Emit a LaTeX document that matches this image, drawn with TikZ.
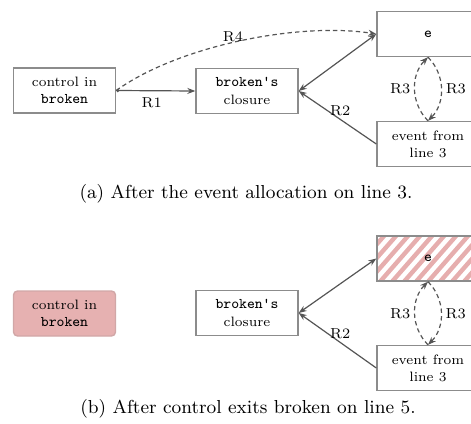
\documentclass[tikz,border=0pt]{standalone}
\usetikzlibrary{arrows.meta}
\definecolor{boxgray}{HTML}{8C8C8C}
\definecolor{linegray}{HTML}{555555}
\definecolor{pinkfill}{HTML}{E6B1B1}
\definecolor{hatchpink}{HTML}{E6AEAE}
\tikzset{
  box/.style={draw=boxgray, line width=0.7pt, minimum width=51pt, minimum height=22.5pt,
    inner sep=1pt, align=center, font=\fontsize{6.8}{8.6}\selectfont},
  lbl/.style={font=\fontsize{7.2}{9}\selectfont, inner sep=1pt},
  captext/.style={font=\fontsize{9.4}{11}\selectfont},
  conn/.style={draw=linegray, line width=0.6pt, -{Stealth[length=4pt,width=3pt]}},
  dconn/.style={conn, dashed, dash pattern=on 2.2pt off 1.6pt},
}
\newcommand{\tts}[1]{{\ttfamily\fontsize{7.4}{8.6}\selectfont #1}}
\begin{document}
\begin{tikzpicture}[x=0.5pt,y=-0.5pt]
\clip (0,0) rectangle (471,423);
\useasboundingbox (0,0) rectangle (471,423);
% ---------- panel (a)
\node[box] (ctrlA) at (64.5,90.5) {control in\\\tts{broken}};
\node[box] (closA) at (247,91) {\tts{broken's}\\closure};
\node[box] (topA) at (428,34) {\tts{e}};
\node[box] (evA) at (428,144) {event from\\line 3};
\draw[conn, {Circle[length=1.6pt]}-{Stealth[length=4pt,width=3pt]}] (ctrlA.east) -- node[lbl, below=2pt, pos=0.45] {R1} (closA.west);
\draw[dconn] (ctrlA.east) .. controls (180,45) and (300,22) .. node[lbl, pos=0.47, above=-1pt] {R4} (topA.west);
\draw[conn, {Stealth[length=4pt,width=3pt]}-{Stealth[length=4pt,width=3pt]}] (closA.east) -- (topA.west);
\draw[conn] (evA.west) -- node[lbl, pos=0.55, anchor=south west, xshift=-3pt, yshift=-2pt] {R2} (closA.east);
\draw[dconn] (evA.north) to[bend left=45] node[lbl, left=1pt] {R3} (topA.south);
\draw[dconn] (topA.south) to[bend left=45] node[lbl, right=1pt] {R3} (evA.north);
\node[captext] (capA) at (246,194) {(a) After the event allocation on line 3.};
% ---------- panel (b)
\node[box, fill=pinkfill, draw=pinkfill!80!gray, rounded corners=2pt] (ctrlB) at (64.5,313.5) {control in\\\tts{broken}};
\node[box] (closB) at (247,313) {\tts{broken's}\\closure};
\node[box] (topB) at (428,258.5) {};
\begin{scope}
  \clip (topB.south west) rectangle (topB.north east);
  \foreach \i in {280,292,...,490} {
    \draw[hatchpink, line width=2.2pt] (\i,300) -- (\i+70,220);
  }
\end{scope}
\node[box, fill=none] (topBt) at (topB) {\tts{e}};
\node[box] (evB) at (428,368) {event from\\line 3};
\draw[conn, {Stealth[length=4pt,width=3pt]}-{Stealth[length=4pt,width=3pt]}] (closB.east) -- (topB.west);
\draw[conn] (evB.west) -- node[lbl, pos=0.55, anchor=south west, xshift=-3pt, yshift=-2pt] {R2} (closB.east);
\draw[dconn] (evB.north) to[bend left=45] node[lbl, left=1pt] {R3} (topB.south);
\draw[dconn] (topB.south) to[bend left=45] node[lbl, right=1pt] {R3} (evB.north);
\node[captext] (capB) at (248,409) {(b) After control exits broken on line 5.};
\end{tikzpicture}
\end{document}
